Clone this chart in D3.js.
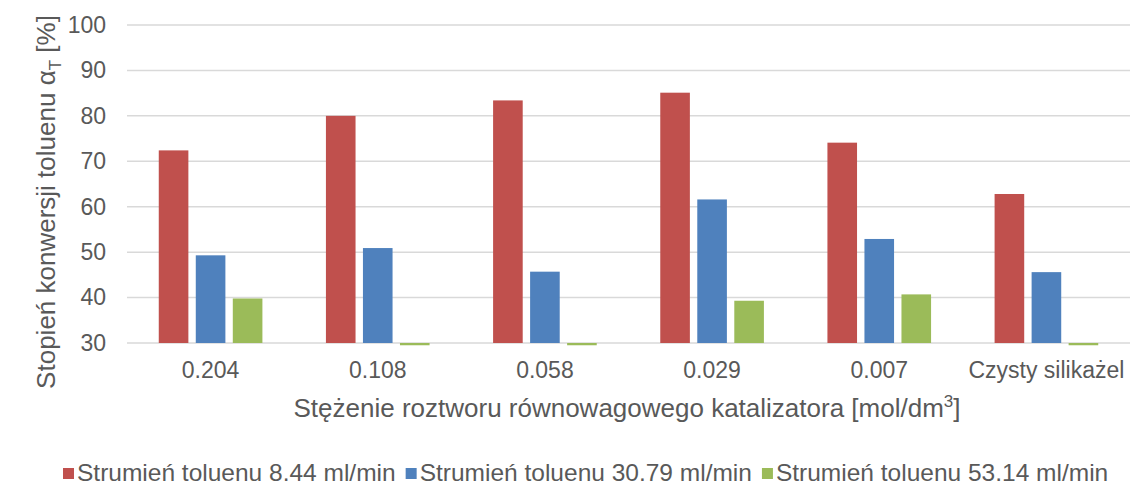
<!DOCTYPE html>
<html>
<head>
<meta charset="utf-8">
<script src="https://cdn.jsdelivr.net/npm/d3@7"></script>
<style>
  body { margin: 0; background: #fff; }
  text { font-family: "Liberation Sans", Arial, sans-serif; fill: #595959; }
</style>
</head>
<body>
<svg id="chart" width="1138" height="488"></svg>
<script>
const categories = ["0.204", "0.108", "0.058", "0.029", "0.007", "Czysty silikażel"];
const seriesNames = ["Strumień toluenu 8.44 ml/min", "Strumień toluenu 30.79 ml/min", "Strumień toluenu 53.14 ml/min"];
const flow844 = [72.4, 80.0, 83.4, 85.1, 74.1, 62.8];
const flow3079 = [49.3, 50.9, 45.7, 61.6, 52.9, 45.6];
const flow5314 = [39.8, 29.5, 29.5, 39.3, 40.7, 29.5];
const yTicks = [30, 40, 50, 60, 70, 80, 90, 100];
const colors = ["#c0504d", "#4f81bd", "#9bbb59"];

const series = [flow844, flow3079, flow5314];

const margin = {top: 25, right: 8, bottom: 145, left: 127},
      width = 1138 - margin.left - margin.right,
      height = 488 - margin.top - margin.bottom;

const svg = d3.select("#chart");
const g = svg.append("g").attr("transform", `translate(${margin.left},${margin.top})`);

const x = d3.scaleBand().domain(categories).range([0, width]).padding(0);
const xInner = d3.scaleBand().domain(d3.range(series.length))
    .range([x.bandwidth() * 0.19, x.bandwidth() * 0.81]).paddingInner(0.2);
const y = d3.scaleLinear().domain([30, 100]).range([height, 0]);

// gridlines
g.append("g")
  .selectAll("line")
  .data(yTicks)
  .enter().append("line")
    .attr("x1", 0)
    .attr("x2", width)
    .attr("y1", d => y(d))
    .attr("y2", d => y(d))
    .attr("stroke", "#d9d9d9")
    .attr("stroke-width", 1.5);

// bars
categories.forEach((c, i) => {
  g.append("g")
      .attr("transform", `translate(${x(c)},0)`)
    .selectAll("rect")
    .data(series.map((s, k) => ({k: k, v: s[i]})))
    .enter().append("rect")
      .attr("x", d => xInner(d.k))
      .attr("width", xInner.bandwidth())
      .attr("y", d => Math.min(y(d.v), y(30)))
      .attr("height", d => Math.abs(y(30) - y(d.v)))
      .attr("fill", d => colors[d.k]);
});

// y axis
const yAxis = g.append("g")
    .call(d3.axisLeft(y).tickValues(yTicks).tickSize(0).tickPadding(21));
yAxis.select(".domain").remove();
yAxis.selectAll("text").style("font-size", "23px");

// x axis
const xAxis = g.append("g")
    .attr("transform", `translate(0,${height})`)
    .call(d3.axisBottom(x).tickSize(0).tickPadding(19));
xAxis.select(".domain").remove();
xAxis.selectAll("text").style("font-size", "23px");

// axis titles
const xt = svg.append("text")
    .attr("x", 627)
    .attr("y", 417)
    .attr("text-anchor", "middle")
    .style("font-size", "26px")
    .text("Stężenie roztworu równowagowego katalizatora [mol/dm");
xt.append("tspan").attr("dy", -10).style("font-size", "17px").text("3");
xt.append("tspan").attr("dy", 10).text("]");

const yt = svg.append("text")
    .attr("transform", "translate(55,202) rotate(-90)")
    .attr("text-anchor", "middle")
    .style("font-size", "26px")
    .text("Stopień konwersji toluenu α");
yt.append("tspan").attr("dy", 6).style("font-size", "17px").text("T");
yt.append("tspan").attr("dy", -6).text(" [%]");

// legend
const legend = svg.append("g");
let lx = 63;
seriesNames.forEach((name, i) => {
  const item = legend.append("g").attr("transform", `translate(${lx},481)`);
  item.append("rect")
      .attr("x", 0)
      .attr("y", -13)
      .attr("width", 11)
      .attr("height", 11)
      .attr("fill", colors[i]);
  const t = item.append("text")
      .attr("x", 14)
      .attr("y", 0)
      .style("font-size", "24.5px")
      .text(name);
  lx += 14 + t.node().getComputedTextLength() + 10;
});
</script>
</body>
</html>
